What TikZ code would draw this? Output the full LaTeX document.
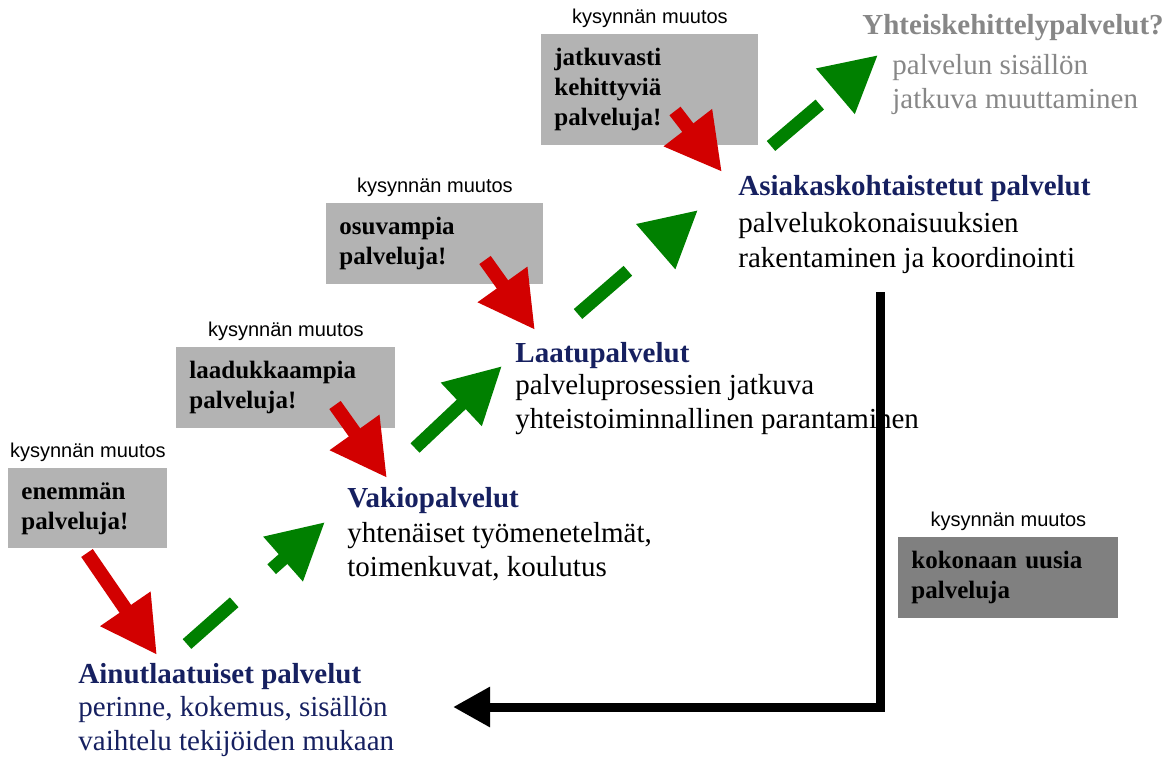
\documentclass[tikz,border=0pt]{standalone}
\usepackage{fontspec}
\setmainfont{Liberation Serif}
\setsansfont{Liberation Sans}
\usetikzlibrary{arrows.meta, positioning, calc}

\definecolor{laatikko}{RGB}{179,179,179}
\definecolor{tumma}{RGB}{128,128,128}
\definecolor{punainen}{RGB}{210,0,0}
\definecolor{vihrea}{RGB}{0,128,0}
\definecolor{sininen}{RGB}{22,32,96}
\definecolor{harmaa}{RGB}{135,135,135}

\tikzset{
  otsikko/.style={anchor=base west, inner sep=0pt, text=sininen,
    font=\bfseries\fontsize{14.5}{17}\selectfont},
  % kuvaus: paikka annetaan viimeisen rivin perusviivalle
  kuvaus/.style={anchor=base west, inner sep=0pt, align=left,
    font=\fontsize{14.5}{17}\selectfont},
  muutos/.style={fill=laatikko, anchor=north west, inner xsep=6.5pt, inner ysep=7pt,
    align=left, text width=#1, font=\bfseries\fontsize{12.5}{15}\selectfont},
  kysynta/.style={inner sep=0pt, above=3pt of #1, font=\sffamily\fontsize{10}{12}\selectfont},
  punanuoli/.style={draw=punainen, line width=7pt, -{Triangle[length=28pt,width=28.5pt]}},
  vihreanuoli/.style={draw=vihrea, line width=6.5pt, -{Triangle[length=28pt,width=28pt]}},
  paluunuoli/.style={draw=black, line width=4.5pt, line join=miter,
    -{Triangle[length=18.5pt,width=19pt]}}
}

\begin{document}
\begin{tikzpicture}[x=0.5pt,y=-0.5pt]
  \useasboundingbox (0,0) rectangle (1170,760);

  % kysynnan muutos -laatikot
  \node[muutos=66.5pt] (b1) at (8,468) {enemmän\\palveluja!};
  \node[muutos=96.5pt] (b2) at (176,347) {laadukkaampia\\palveluja!};
  \node[muutos=95.5pt] (b3) at (326,203) {osuvampia\\palveluja!};
  \node[muutos=95.5pt] (b4) at (541,34) {jatkuvasti\\kehittyviä\\palveluja!};
  \node[muutos=97pt, fill=tumma] (b5) at (898,537) {kokonaan uusia\\palveluja};
  \node[kysynta=b1] (m1) {kysynnän muutos};
  \node[kysynta=b2] (m2) {kysynnän muutos};
  \node[kysynta=b3] (m3) {kysynnän muutos};
  \node[kysynta=b4] (m4) {kysynnän muutos};
  \node[kysynta=b5] (m5) {kysynnän muutos};

  % palvelutasot
  \node[otsikko] (ainut) at (78,683) {Ainutlaatuiset palvelut};
  \node[kuvaus, text=sininen] (ainutk) at (78,750) {perinne, kokemus, sisällön\\vaihtelu tekijöiden mukaan};
  \node[otsikko] (vakio) at (347,507) {Vakiopalvelut};
  \node[kuvaus] (vakiok) at (347,576) {yhtenäiset työmenetelmät,\\toimenkuvat, koulutus};
  \node[otsikko] (laatu) at (515,362) {Laatupalvelut};
  \node[kuvaus] (laatuk) at (515,428) {palveluprosessien jatkuva\\yhteistoiminnallinen parantaminen};
  \node[otsikko] (asiakas) at (738,195) {Asiakaskohtaistetut palvelut};
  \node[kuvaus] (asiakask) at (738,267) {palvelukokonaisuuksien\\[0.5pt]rakentaminen ja koordinointi};
  \node[otsikko, text=harmaa] (yhteis) at (862,34) {Yhteiskehittelypalvelut?};
  \node[kuvaus, text=harmaa] (yhteisk) at (892,108) {palvelun sisällön\\jatkuva muuttaminen};

  % nuolten paat
  \coordinate (r1a) at (87,553);  \coordinate (r1b) at (157,655);
  \coordinate (r2a) at (335,405); \coordinate (r2b) at (387,478);
  \coordinate (r3a) at (485,260); \coordinate (r3b) at (535,330);
  \coordinate (r4a) at (675,111); \coordinate (r4b) at (722,172);
  \coordinate (g1a) at (187,644); \coordinate (g1b) at (325,522);
  \coordinate (g2a) at (415,448); \coordinate (g2b) at (502,366);
  \coordinate (g3a) at (578,314); \coordinate (g3b) at (698,210);
  \coordinate (g4a) at (771,146); \coordinate (g4b) at (878,55);
  \coordinate (paluu) at (880,292); \coordinate (paluuloppu) at (453,707);

  \draw[punanuoli] (r1a) -- (r1b);
  \draw[punanuoli] (r2a) -- (r2b);
  \draw[punanuoli] (r3a) -- (r3b);
  \draw[punanuoli] (r4a) -- (r4b);

  \draw[vihreanuoli, dash pattern=on 31.5pt off 25pt on 40pt] (g1a) -- (g1b);
  \draw[vihreanuoli] (g2a) -- (g2b);
  \draw[vihreanuoli, dash pattern=on 33pt off 60pt] (g3a) -- (g3b);
  \draw[vihreanuoli, dash pattern=on 32pt off 60pt] (g4a) -- (g4b);

  \draw[paluunuoli] (paluu) |- (paluuloppu);
\end{tikzpicture}
\end{document}
